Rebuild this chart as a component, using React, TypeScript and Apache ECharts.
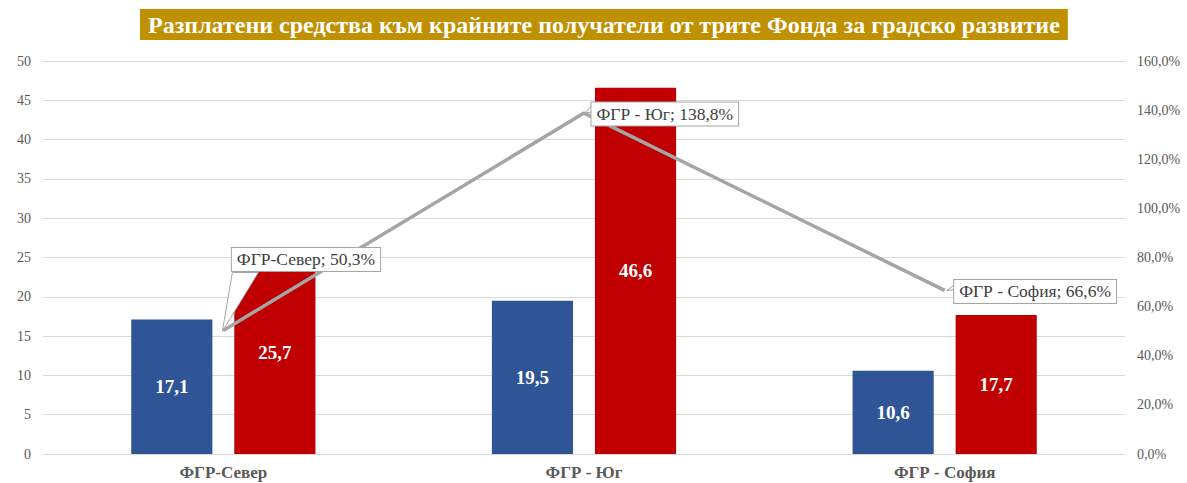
import React, { useEffect, useRef } from "react";
import * as echarts from "echarts";

const categories = ["ФГР-Север", "ФГР - Юг", "ФГР - София"];
const blueValues = [17.1, 19.5, 10.6];
const redValues = [25.7, 46.6, 17.7];
const percentValues = [50.3, 138.8, 66.6];
const titleText = "Разплатени средства към крайните получатели от трите Фонда за градско развитие";

const fmt = (v: number) => v.toFixed(1).replace(".", ",");

export default function App() {
  const ref = useRef<HTMLDivElement>(null);
  useEffect(() => {
    const chart = echarts.init(ref.current!, null, { renderer: "svg" });
    const serif = "Liberation Serif";
    const labelOffsets = [
      [3, -71],
      [2, 1],
      [4, 1],
    ];
    chart.setOption({
      animation: false,
      title: {
        text: titleText,
        left: 140,
        top: 9,
        backgroundColor: "#BF9000",
        padding: [4, 8, 3, 8],
        textStyle: { color: "#ffffff", fontFamily: serif, fontWeight: "bold", fontSize: 24 },
      },
      grid: { left: 43, right: 62, top: 61, bottom: 29, containLabel: false },
      xAxis: {
        type: "category",
        data: categories,
        axisLine: { lineStyle: { color: "#D9D9D9", width: 1 } },
        axisTick: { show: false },
        axisLabel: { color: "#595959", fontFamily: serif, fontWeight: "bold", fontSize: 17, margin: 10 },
      },
      yAxis: [
        {
          type: "value",
          min: 0,
          max: 50,
          interval: 5,
          axisLine: { show: false },
          axisTick: { show: false },
          splitLine: { lineStyle: { color: "#D9D9D9" } },
          axisLabel: { color: "#595959", fontFamily: serif, fontSize: 14, margin: 12 },
        },
        {
          type: "value",
          min: 0,
          max: 160,
          interval: 20,
          axisLine: { show: false },
          axisTick: { show: false },
          splitLine: { show: false },
          axisLabel: {
            color: "#595959",
            fontFamily: serif,
            fontSize: 14,
            margin: 12,
            formatter: (v: number) => fmt(v) + "%",
          },
        },
      ],
      series: [
        {
          type: "bar",
          data: blueValues,
          barWidth: "22.5%",
          barGap: "27%",
          z: 2,
          itemStyle: { color: "#2F5597" },
          label: {
            show: true,
            position: "inside",
            color: "#ffffff",
            fontFamily: serif,
            fontWeight: "bold",
            fontSize: 19,
            formatter: (p: any) => fmt(p.value),
          },
        },
        {
          type: "bar",
          data: redValues,
          barWidth: "22.5%",
          z: 2,
          itemStyle: { color: "#C00000" },
          label: {
            show: true,
            position: "inside",
            color: "#ffffff",
            fontFamily: serif,
            fontWeight: "bold",
            fontSize: 19,
            formatter: (p: any) => fmt(p.value),
          },
        },
        {
          type: "line",
          yAxisIndex: 1,
          z: 4,
          data: percentValues.map((v, i) => ({
            value: v,
            label: { offset: labelOffsets[i] },
          })),
          symbol: "circle",
          symbolSize: 1,
          showSymbol: true,
          itemStyle: { color: "rgba(0,0,0,0)" },
          lineStyle: { color: "#A5A5A5", width: 3.5 },
          label: {
            show: true,
            position: "right",
            distance: 5,
            color: "#404040",
            fontFamily: serif,
            fontSize: 17.5,
            backgroundColor: "#ffffff",
            borderColor: "#A5A5A5",
            borderWidth: 1,
            padding: [3, 5, 2, 5],
            formatter: (p: any) => `${p.name}; ${fmt(p.value)}%`,
          },
        },
      ],
    });

    const pts = percentValues.map((v, i) =>
      chart.convertToPixel({ xAxisIndex: 0, yAxisIndex: 1 } as any, [i, v]) as number[]
    );
    const rel = [
      [[9, -58], [35, -58], [-1, 1]],
      [[9, -9], [9, -1], [1, 0]],
      [[12, -7], [12, -1], [2, 0]],
    ];
    chart.setOption({
      graphic: pts.map((p, i) => ({
        type: "polygon",
        z: 3,
        shape: { points: rel[i].map((d) => [p[0] + d[0], p[1] + d[1]]) },
        style: { fill: "#ffffff", stroke: "#A5A5A5", lineWidth: 1 },
      })),
    });
    return () => chart.dispose();
  }, []);
  return (
    <div
      ref={ref}
      style={{ position: "absolute", left: 0, top: 0, width: 1187, height: 483, background: "#ffffff" }}
    />
  );
}
